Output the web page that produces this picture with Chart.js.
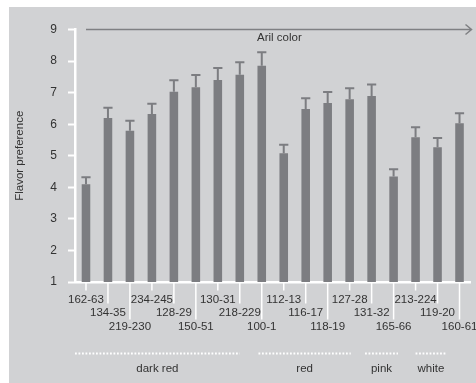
<!DOCTYPE html>
<html>
<head>
<meta charset="utf-8">
<script src="https://cdn.jsdelivr.net/npm/chart.js@4/dist/chart.umd.min.js"></script>
<style>
  html, body { margin: 0; padding: 0; background: #ffffff; }
  #wrap { width: 476px; height: 383px; position: relative; }
</style>
</head>
<body>
<div id="wrap"><canvas id="chart" width="476" height="383"></canvas></div>
<script>
// Accession codes, ordered along the aril colour gradient
const categories = ['162-63', '134-35', '219-230', '234-245', '128-29', '150-51', '130-31', '218-229', '100-1',
  '112-13', '116-17', '118-19', '127-28', '131-32', '165-66', '213-224', '119-20', '160-61'];
// Mean flavor preference score
const preference = [4.10, 6.20, 5.79, 6.32, 7.03, 7.17, 7.40, 7.57, 7.85,
  5.08, 6.48, 6.67, 6.79, 6.89, 4.34, 5.59, 5.27, 6.03];
// Upper error (standard error) per accession
const errorUpper = [0.22, 0.32, 0.32, 0.33, 0.36, 0.39, 0.38, 0.39, 0.43,
  0.27, 0.34, 0.35, 0.35, 0.37, 0.23, 0.31, 0.29, 0.32];
// Y axis range and tick values
const yTicks = [1, 2, 3, 4, 5, 6, 7, 8, 9];
// Aril colour groups
const groupNames = ['dark red', 'red', 'pink', 'white'];

// Extent of each group's dotted underline, in category units
const groupSpans = [[-0.5, 7.0], [7.85, 12.05], [12.7, 14.2], [15.0, 16.4]];

const FONT = '"Liberation Sans", Arial, sans-serif';
const TEXT = '#333333';
const PANEL = '#d1d2d4';
const BAR = '#7c7d81';
const ARROW = '#7f8083';

const decor = {
  id: 'decor',
  beforeDraw(chart) {
    const ctx = chart.ctx;
    ctx.save();
    ctx.fillStyle = PANEL;
    ctx.fillRect(9, 7, chart.width - 9, chart.height - 7);
    ctx.restore();
  },
  afterDatasetsDraw(chart) {
    const ctx = chart.ctx;
    const y = chart.scales.y;
    const meta = chart.getDatasetMeta(0);
    ctx.save();
    ctx.strokeStyle = BAR;
    ctx.lineWidth = 2;
    meta.data.forEach((bar, i) => {
      const top = y.getPixelForValue(preference[i]);
      const cap = y.getPixelForValue(preference[i] + errorUpper[i]);
      ctx.beginPath();
      ctx.moveTo(bar.x, top);
      ctx.lineTo(bar.x, cap);
      ctx.moveTo(bar.x - 4.6, cap);
      ctx.lineTo(bar.x + 4.6, cap);
      ctx.stroke();
    });
    ctx.restore();
  },
  afterDraw(chart) {
    const ctx = chart.ctx;
    const x = chart.scales.x;
    const y = chart.scales.y;
    const area = chart.chartArea;
    ctx.save();

    // Arrow along the top showing the colour gradient
    const ay = y.getPixelForValue(yTicks[yTicks.length - 1]);
    const ax0 = x.getPixelForValue(0);
    const ax1 = area.right + 1;
    ctx.strokeStyle = ARROW;
    ctx.lineWidth = 1.5;
    ctx.beginPath();
    ctx.moveTo(ax0, ay);
    ctx.lineTo(ax1, ay);
    ctx.moveTo(ax1 - 6, ay - 5);
    ctx.lineTo(ax1, ay);
    ctx.lineTo(ax1 - 6, ay + 5);
    ctx.stroke();
    ctx.fillStyle = TEXT;
    ctx.font = '11.5px ' + FONT;
    ctx.textAlign = 'left';
    ctx.textBaseline = 'middle';
    ctx.fillText('Aril color', 257, ay + 8);

    // Y axis title
    ctx.save();
    ctx.translate(20, (area.top + area.bottom) / 2);
    ctx.rotate(-Math.PI / 2);
    ctx.textAlign = 'center';
    ctx.textBaseline = 'middle';
    ctx.fillText('Flavor preference', 0, 0);
    ctx.restore();

    // Staggered category labels with leader ticks
    const rowY = [300, 313, 326.5];
    const tickEnd = [290.5, 303.5, 319.5];
    ctx.strokeStyle = '#ffffff';
    ctx.lineWidth = 1.5;
    ctx.textAlign = 'center';
    ctx.textBaseline = 'middle';
    ctx.font = '11.5px ' + FONT;
    categories.forEach((label, i) => {
      const px = x.getPixelForValue(i);
      const row = i % 3;
      ctx.beginPath();
      ctx.moveTo(px, area.bottom + 1);
      ctx.lineTo(px, tickEnd[row]);
      ctx.stroke();
      ctx.fillText(label, px, rowY[row]);
    });

    // Group underlines and names
    const step = x.getPixelForValue(1) - x.getPixelForValue(0);
    const x0 = x.getPixelForValue(0);
    groupNames.forEach((name, g) => {
      const s = x0 + groupSpans[g][0] * step;
      const e = x0 + groupSpans[g][1] * step;
      ctx.save();
      ctx.setLineDash([1.8, 1.7]);
      ctx.lineWidth = 2;
      ctx.strokeStyle = '#ffffff';
      ctx.beginPath();
      ctx.moveTo(s, 353.5);
      ctx.lineTo(e, 353.5);
      ctx.stroke();
      ctx.restore();
      ctx.fillText(name, (s + e) / 2, 369);
    });

    ctx.restore();
  }
};

new Chart(document.getElementById('chart'), {
  type: 'bar',
  data: {
    labels: categories,
    datasets: [{
      data: preference,
      backgroundColor: BAR,
      borderWidth: 0,
      barPercentage: 0.39,
      categoryPercentage: 1.0
    }]
  },
  options: {
    responsive: false,
    animation: false,
    devicePixelRatio: 1,
    layout: { padding: { top: 29.5, right: 5.5, bottom: 0, left: 0 } },
    plugins: { legend: { display: false }, tooltip: { enabled: false } },
    scales: {
      x: {
        z: 1,
        offset: true,
        ticks: { display: false },
        grid: { display: false },
        border: { display: true, color: '#ffffff', width: 2.5 },
        afterFit(scale) { scale.height = 101; }
      },
      y: {
        min: yTicks[0],
        max: yTicks[yTicks.length - 1],
        afterBuildTicks(scale) { scale.ticks = yTicks.map(v => ({ value: v })); },
        ticks: {
          padding: 11,
          color: TEXT,
          font: { family: FONT, size: 12 }
        },
        grid: {
          drawOnChartArea: false,
          drawTicks: true,
          tickLength: 7,
          tickColor: '#ffffff',
          tickWidth: 2,
          color: '#ffffff'
        },
        border: { display: true, color: '#ffffff', width: 2.5 },
        afterFit(scale) { scale.width = 75; }
      }
    }
  },
  plugins: [decor]
});
</script>
</body>
</html>
